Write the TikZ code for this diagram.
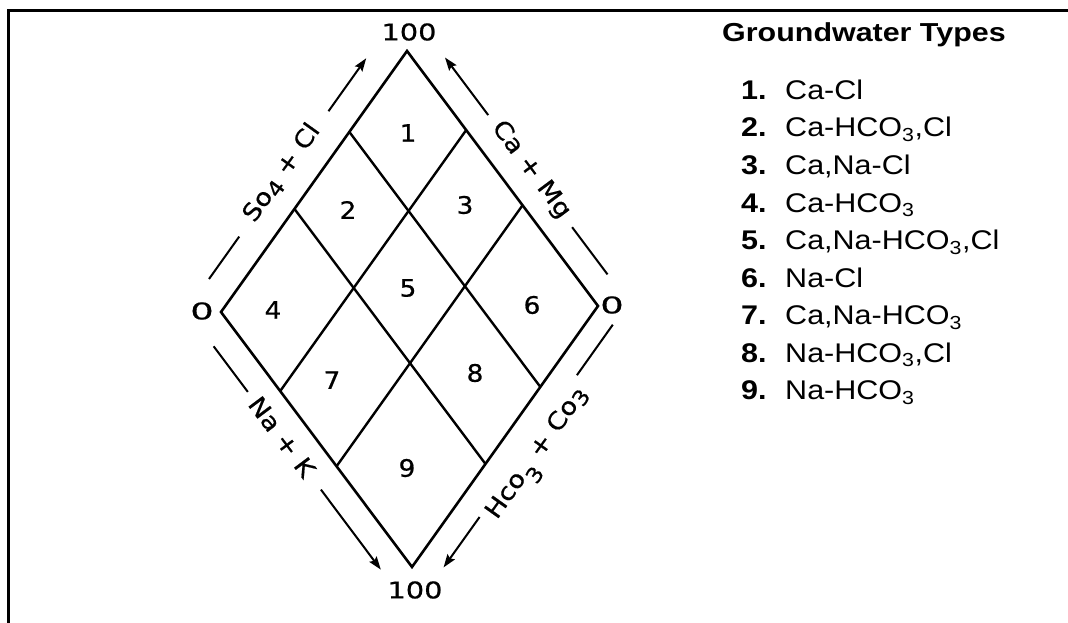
\documentclass[tikz,border=0pt]{standalone}
\usepackage{fontspec}
\setmainfont{Liberation Sans}
\newfontfamily\letterfont[FakeBold=0.6]{DejaVu Sans}
\usetikzlibrary{arrows.meta,calc}

% lowered digits used in the hand-lettered axis labels
\newcommand\lowdigit[1]{\raisebox{-0.35ex}{\fontsize{21}{21}\selectfont #1}}
\newcommand\deepdigit[1]{\raisebox{-0.9ex}{\fontsize{21}{21}\selectfont #1}}

\begin{document}
\begin{tikzpicture}[x=1pt,y=-1pt,
  frame/.style={line width=3pt, line join=miter},
  edge/.style={line width=2.6pt, line join=miter},
  gridline/.style={line width=2.4pt},
  guide/.style={line width=2pt},
  guidearrow/.style={guide, -{Stealth[length=13pt,width=9pt,inset=2pt]}},
  cellnum/.style={font=\letterfont\fontsize{24}{24}\selectfont, xscale=1.1, inner sep=0pt},
  cornerlbl/.style={font=\letterfont\fontsize{23}{23}\selectfont, xscale=1.25, inner sep=0pt},
  zerolbl/.style={font=\letterfont\fontsize{23}{23}\selectfont, xscale=1.6, inner sep=0pt},
  sidelbl/.style={font=\letterfont\fontsize{24}{24}\selectfont, xscale=1.12, inner sep=0pt},
  legtitle/.style={font=\bfseries\fontsize{26}{26}\selectfont, anchor=base west, inner sep=0pt, xscale=1.17},
  legnum/.style={font=\bfseries\fontsize{27}{27}\selectfont, anchor=base west, inner sep=0pt, xscale=1.13},
  legitem/.style={font=\fontsize{27}{27}\selectfont, anchor=base west, inner sep=0pt, xscale=1.13},
]
\useasboundingbox (0,0) rectangle (1068,623);

% frame (top and left sides)
\coordinate (fTR) at (1068,10.5);
\coordinate (fTL) at (8,10.5);
\coordinate (fBL) at (8,623);
\draw[frame] (fTR) -- (fTL) -- (fBL);

% diamond corners
\coordinate (T) at (407,51);
\coordinate (L) at (221,312);
\coordinate (R) at (598,306);
\coordinate (B) at (412,567);
\draw[edge] (T) -- (R) -- (B) -- (L) -- cycle;

% subdivision lines
\foreach \f in {0.31,0.605} {
  \draw[gridline] ($(T)!\f!(L)$) -- ($(R)!\f!(B)$);
  \draw[gridline] ($(T)!\f!(R)$) -- ($(L)!\f!(B)$);
}

% field numbers
\node[cellnum] (n1) at (408,133) {1};
\node[cellnum] (n2) at (348,210) {2};
\node[cellnum] (n3) at (465,205) {3};
\node[cellnum] (n4) at (273,310) {4};
\node[cellnum] (n5) at (408,288) {5};
\node[cellnum] (n6) at (532,305) {6};
\node[cellnum] (n7) at (332,380) {7};
\node[cellnum] (n8) at (475,373) {8};
\node[cellnum] (n9) at (407,468) {9};

% corner values
\node[cornerlbl] (top100) at (409,32) {100};
\node[cornerlbl] (bot100) at (415,590) {100};
\node[zerolbl] (zleft) at (202,311) {0};
\node[zerolbl] (zright) at (612,305) {0};

% upper left side: SO4 + Cl
\coordinate (tlA) at (209,279);
\coordinate (tlB) at (239.2,236.6);
\coordinate (tlC) at (328.5,111.2);
\coordinate (tlD) at (366.2,58.3);
\draw[guide] (tlA) -- (tlB);
\draw[guidearrow] (tlC) -- (tlD);
\node[rotate=54.5, sidelbl] (lblso) at (282,173) {So\lowdigit{4} + Cl};

% upper right side: Ca + Mg
\coordinate (trA) at (488.2,115.1);
\coordinate (trB) at (445,57.5);
\coordinate (trC) at (572.1,227.2);
\coordinate (trD) at (607.5,274.4);
\draw[guidearrow] (trA) -- (trB);
\draw[guide] (trC) -- (trD);
\node[rotate=-53.2, sidelbl] (lblca) at (531,170) {Ca + Mg};

% lower left side: Na + K
\coordinate (lbA) at (213.6,346.3);
\coordinate (lbB) at (247.8,391.9);
\coordinate (lbC) at (320.9,489.6);
\coordinate (lbD) at (380.8,569.6);
\draw[guide] (lbA) -- (lbB);
\draw[guidearrow] (lbC) -- (lbD);
\node[rotate=-53.2, sidelbl] (lblna) at (282,437) {Na + K};

% lower right side: HCO3 + CO3
\coordinate (brA) at (479.6,517);
\coordinate (brB) at (443.6,567.4);
\coordinate (brC) at (576.9,375.2);
\coordinate (brD) at (612.8,324.7);
\draw[guidearrow] (brA) -- (brB);
\draw[guide] (brC) -- (brD);
\node[rotate=54.5, sidelbl] (lblhco) at (540,455) {Hco\deepdigit{3} + Co\lowdigit{3}};

% legend
\node[legtitle] (title) at (722,41.7) {Groundwater Types};
\node[legnum] (k1) at (741,99.5) {1.};  \node[legitem] (t1) at (785,99.5) {Ca-Cl};
\node[legnum] (k2) at (741,137)  {2.};  \node[legitem] (t2) at (785,137)  {Ca-HCO\textsubscript{3},Cl};
\node[legnum] (k3) at (741,174.5){3.};  \node[legitem] (t3) at (785,174.5){Ca,Na-Cl};
\node[legnum] (k4) at (741,212)  {4.};  \node[legitem] (t4) at (785,212)  {Ca-HCO\textsubscript{3}};
\node[legnum] (k5) at (741,249.5){5.};  \node[legitem] (t5) at (785,249.5){Ca,Na-HCO\textsubscript{3},Cl};
\node[legnum] (k6) at (741,287)  {6.};  \node[legitem] (t6) at (785,287)  {Na-Cl};
\node[legnum] (k7) at (741,324.5){7.};  \node[legitem] (t7) at (785,324.5){Ca,Na-HCO\textsubscript{3}};
\node[legnum] (k8) at (741,362)  {8.};  \node[legitem] (t8) at (785,362)  {Na-HCO\textsubscript{3},Cl};
\node[legnum] (k9) at (741,399.5){9.};  \node[legitem] (t9) at (785,399.5){Na-HCO\textsubscript{3}};
\end{tikzpicture}
\end{document}
